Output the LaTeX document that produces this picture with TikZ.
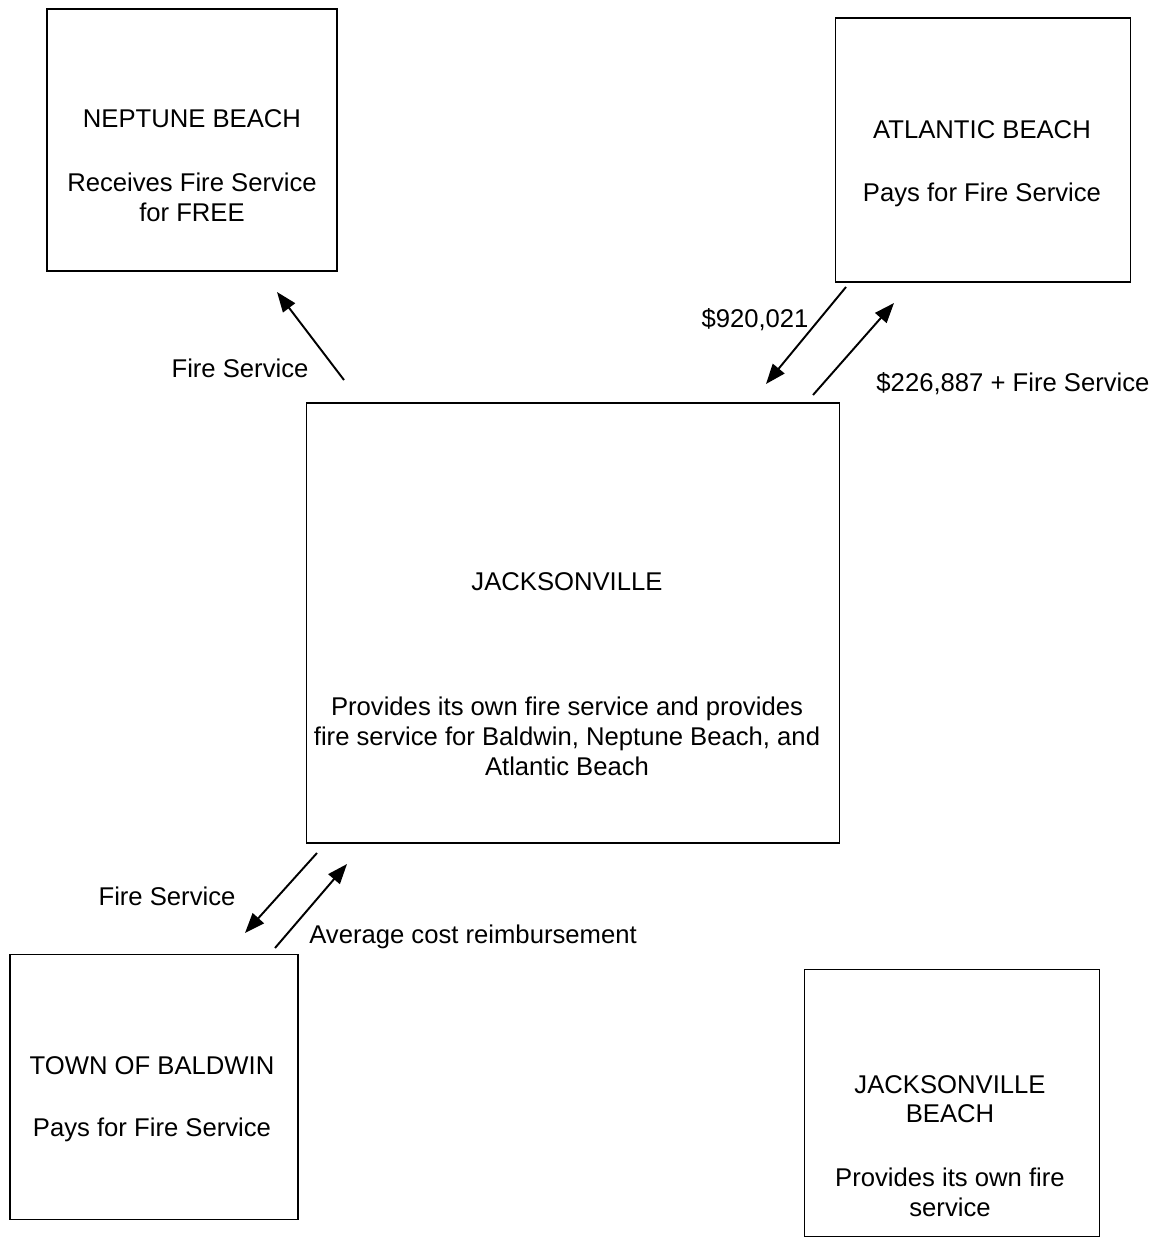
\documentclass[tikz,border=0pt]{standalone}
\usepackage{fontspec}
\setmainfont{Liberation Sans}
\usepackage{tikz}
\usetikzlibrary{arrows.meta,positioning}

\begin{document}
\begin{tikzpicture}[x=0.02cm,y=-0.02cm,
caja/.style={draw,line width=1pt,minimum width=5.8cm,minimum height=5.25cm,inner sep=0pt},
texto/.style={align=center,font=\fontsize{14.6}{17}\selectfont,inner sep=0pt},
lbl/.style={font=\fontsize{14.6}{17}\selectfont,inner sep=1pt},
arr/.style={-{Triangle[length=4mm,width=3mm]},line width=1.1pt}
]
\useasboundingbox (0,0) rectangle (1161,1237);

% cajas
\node[caja] (neptune) at (192,140) {};
\node[caja,minimum width=5.9cm,minimum height=5.28cm] (atlantic) at (983,150) {};
\node[caja,minimum width=10.66cm,minimum height=8.8cm] (jax) at (573,623) {};
\node[caja,minimum width=5.76cm,minimum height=5.3cm] (baldwin) at (154,1087) {};
\node[caja,minimum width=5.9cm,minimum height=5.34cm] (jaxbeach) at (952,1103) {};

% textos
\node[texto] (neptunetxt) at (192,166) {NEPTUNE BEACH\\[0.68cm]Receives Fire Service\\for FREE};
\node[texto] (atlantictxt) at (982,164) {ATLANTIC BEACH\\[0.66cm]Pays for Fire Service};
\node[texto] (jaxtxt) at (567,674) {JACKSONVILLE\\[1.92cm]Provides its own fire service and provides\\fire service for Baldwin, Neptune Beach, and\\Atlantic Beach};
\node[texto] (baldwintxt) at (152,1099) {TOWN OF BALDWIN\\[0.64cm]Pays for Fire Service};
\node[texto] (jaxbeachtxt) at (950,1146) {JACKSONVILLE\\BEACH\\[0.68cm]Provides its own fire\\service};

% puntos de las flechas
\coordinate (n1) at (344,380);
\coordinate (n2) at (277,292);
\coordinate (a1) at (846,287);
\coordinate (a2) at (766,384);
\coordinate (a3) at (813,395);
\coordinate (a4) at (894,303);
\coordinate (b1) at (317,853);
\coordinate (b2) at (245,933);
\coordinate (b3) at (275,948);
\coordinate (b4) at (347,864);

\draw[arr] (n1) -- (n2);
\draw[arr] (a1) -- (a2);
\draw[arr] (a3) -- (a4);
\draw[arr] (b1) -- (b2);
\draw[arr] (b3) -- (b4);

% etiquetas
\node[lbl] (lblnep) at (240,368) {Fire Service};
\node[lbl] (lblpago) at (755,320) {\$920,021};
\node[lbl] (lblatl) at (1013,384) {\$226,887 + Fire Service};
\node[lbl] (lblbal) at (167,896) {Fire Service};
\node[lbl] (lblcosto) at (473,937) {Average cost reimbursement};
\end{tikzpicture}
\end{document}
